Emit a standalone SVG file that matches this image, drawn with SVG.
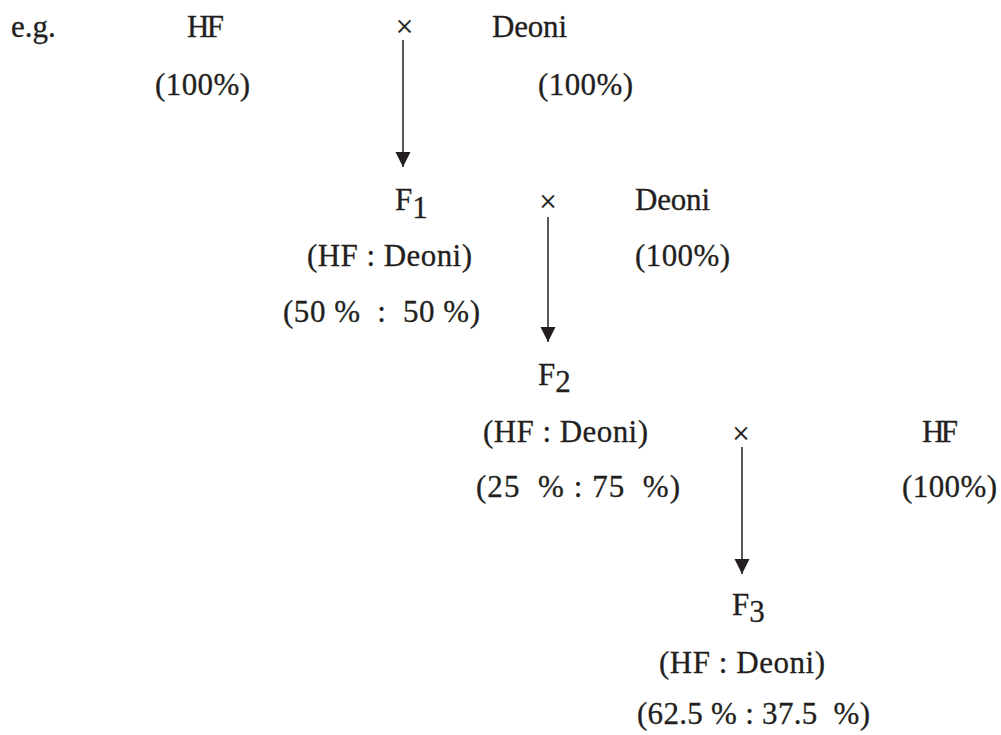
<svg xmlns="http://www.w3.org/2000/svg" width="1001" height="735" viewBox="0 0 1001 735">
<style>
text{font-family:'Liberation Serif','Times New Roman',serif;font-size:31px;fill:#231f20;stroke:#231f20;stroke-width:0.3;white-space:pre}
.x{text-anchor:middle}
.c line{stroke:#231f20;stroke-width:1.5;fill:none}
</style>
<defs>
<marker id="ah" markerUnits="userSpaceOnUse" markerWidth="16" markerHeight="16" refX="15" refY="7.5" orient="auto">
<path d="M0,0 L15,7.5 L0,15 z" fill="#231f20"/>
</marker>
</defs>
<rect width="1001" height="735" fill="#fff"/>
<g id="label-eg"><text x="11" y="37">e.g.</text></g>
<g id="p1-hf"><text x="187" y="37" textLength="37">HF</text><text x="155" y="95" textLength="95">(100%)</text></g>
<g id="cross1"><text class="x" x="404.5" y="37">×</text></g>
<g id="p1-deoni"><text x="492" y="37" textLength="75">Deoni</text><text x="538" y="95" textLength="95">(100%)</text></g>
<g id="f1"><text x="395" y="210">F<tspan dy="8">1</tspan></text><text x="307" y="266" textLength="165">(HF : Deoni)</text><text x="283" y="322" textLength="197">(50 %  :  50 %)</text></g>
<g id="cross2"><text class="x" x="548" y="212">×</text></g>
<g id="p2-deoni"><text x="635" y="210" textLength="75">Deoni</text><text x="635" y="266" textLength="95">(100%)</text></g>
<g id="f2"><text x="538" y="385">F<tspan dy="7">2</tspan></text><text x="483" y="442" textLength="165">(HF : Deoni)</text><text x="476" y="497" textLength="204">(25  % : 75  %)</text></g>
<g id="cross3"><text class="x" x="741" y="444">×</text></g>
<g id="p3-hf"><text x="922" y="442" textLength="36">HF</text><text x="902" y="497" textLength="95">(100%)</text></g>
<g id="f3"><text x="732" y="615">F<tspan dy="7">3</tspan></text><text x="659" y="673" textLength="166">(HF : Deoni)</text><text x="637" y="724" textLength="233">(62.5 % : 37.5  %)</text></g>
<g id="connectors" class="c">
<line x1="403" y1="40" x2="403" y2="167" marker-end="url(#ah)"/>
<line x1="548" y1="217" x2="548" y2="342" marker-end="url(#ah)"/>
<line x1="742" y1="447" x2="742" y2="574" marker-end="url(#ah)"/>
</g>
</svg>
